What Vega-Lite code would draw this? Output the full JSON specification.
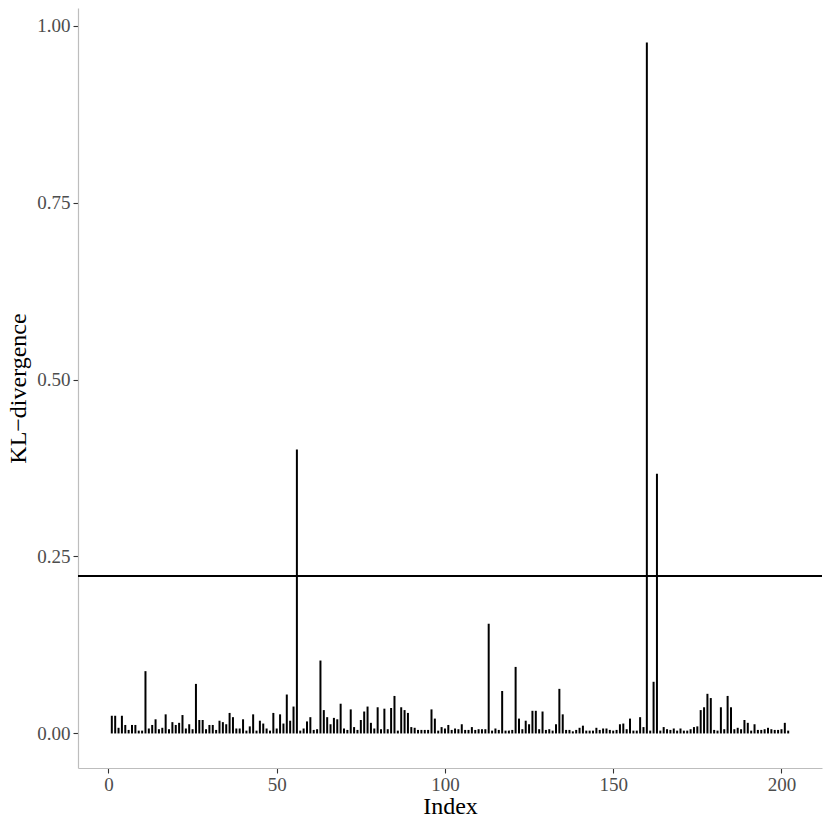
{
  "$schema": "https://vega.github.io/schema/vega-lite/v6.json",
  "width": 744,
  "height": 760,
  "autosize": {"type": "none"},
  "padding": {"left": 78, "top": 8, "right": 8, "bottom": 62},
  "background": "white",
  "config": {
    "view": {"stroke": null},
    "font": "Liberation Serif",
    "axis": {
      "grid": false,
      "domainColor": "#bdbdbd",
      "domainWidth": 1.2,
      "tickColor": "#333333",
      "tickWidth": 1.1,
      "tickSize": 5,
      "labelFont": "Liberation Serif",
      "labelFontSize": 19,
      "labelColor": "#4d4d4d",
      "titleFont": "Liberation Serif",
      "titleFontSize": 24,
      "titleFontWeight": "normal",
      "titleColor": "black"
    }
  },
  "data": {
    "values": [
      {"i":1,"v":0.025},{"i":2,"v":0.025},{"i":3,"v":0.008},{"i":4,"v":0.025},{"i":5,"v":0.012},
      {"i":6,"v":0.005},{"i":7,"v":0.012},{"i":8,"v":0.012},{"i":9,"v":0.004},{"i":10,"v":0.004},
      {"i":11,"v":0.088},{"i":12,"v":0.007},{"i":13,"v":0.012},{"i":14,"v":0.020},{"i":15,"v":0.006},
      {"i":16,"v":0.008},{"i":17,"v":0.027},{"i":18,"v":0.006},{"i":19,"v":0.016},{"i":20,"v":0.012},
      {"i":21,"v":0.015},{"i":22,"v":0.026},{"i":23,"v":0.007},{"i":24,"v":0.013},{"i":25,"v":0.006},
      {"i":26,"v":0.070},{"i":27,"v":0.019},{"i":28,"v":0.019},{"i":29,"v":0.006},{"i":30,"v":0.012},
      {"i":31,"v":0.012},{"i":32,"v":0.005},{"i":33,"v":0.018},{"i":34,"v":0.016},{"i":35,"v":0.013},
      {"i":36,"v":0.029},{"i":37,"v":0.023},{"i":38,"v":0.007},{"i":39,"v":0.007},{"i":40,"v":0.020},
      {"i":41,"v":0.004},{"i":42,"v":0.010},{"i":43,"v":0.027},{"i":44,"v":0.004},{"i":45,"v":0.018},
      {"i":46,"v":0.014},{"i":47,"v":0.007},{"i":48,"v":0.004},{"i":49,"v":0.029},{"i":50,"v":0.007},
      {"i":51,"v":0.027},{"i":52,"v":0.014},{"i":53,"v":0.055},{"i":54,"v":0.018},{"i":55,"v":0.038},
      {"i":56,"v":0.401},{"i":57,"v":0.004},{"i":58,"v":0.007},{"i":59,"v":0.017},{"i":60,"v":0.023},
      {"i":61,"v":0.005},{"i":62,"v":0.006},{"i":63,"v":0.103},{"i":64,"v":0.033},{"i":65,"v":0.023},
      {"i":66,"v":0.013},{"i":67,"v":0.022},{"i":68,"v":0.020},{"i":69,"v":0.042},{"i":70,"v":0.007},
      {"i":71,"v":0.005},{"i":72,"v":0.034},{"i":73,"v":0.009},{"i":74,"v":0.005},{"i":75,"v":0.019},
      {"i":76,"v":0.031},{"i":77,"v":0.038},{"i":78,"v":0.015},{"i":79,"v":0.007},{"i":80,"v":0.037},
      {"i":81,"v":0.006},{"i":82,"v":0.035},{"i":83,"v":0.006},{"i":84,"v":0.036},{"i":85,"v":0.053},
      {"i":86,"v":0.004},{"i":87,"v":0.037},{"i":88,"v":0.033},{"i":89,"v":0.029},{"i":90,"v":0.009},
      {"i":91,"v":0.008},{"i":92,"v":0.005},{"i":93,"v":0.005},{"i":94,"v":0.005},{"i":95,"v":0.005},
      {"i":96,"v":0.034},{"i":97,"v":0.021},{"i":98,"v":0.004},{"i":99,"v":0.009},{"i":100,"v":0.007},
      {"i":101,"v":0.012},{"i":102,"v":0.005},{"i":103,"v":0.007},{"i":104,"v":0.006},{"i":105,"v":0.013},
      {"i":106,"v":0.005},{"i":107,"v":0.005},{"i":108,"v":0.009},{"i":109,"v":0.005},{"i":110,"v":0.006},
      {"i":111,"v":0.006},{"i":112,"v":0.006},{"i":113,"v":0.155},{"i":114,"v":0.004},{"i":115,"v":0.007},
      {"i":116,"v":0.005},{"i":117,"v":0.060},{"i":118,"v":0.004},{"i":119,"v":0.004},{"i":120,"v":0.005},
      {"i":121,"v":0.094},{"i":122,"v":0.021},{"i":123,"v":0.006},{"i":124,"v":0.018},{"i":125,"v":0.013},
      {"i":126,"v":0.032},{"i":127,"v":0.032},{"i":128,"v":0.006},{"i":129,"v":0.031},{"i":130,"v":0.005},
      {"i":131,"v":0.006},{"i":132,"v":0.004},{"i":133,"v":0.013},{"i":134,"v":0.063},{"i":135,"v":0.027},
      {"i":136,"v":0.005},{"i":137,"v":0.005},{"i":138,"v":0.003},{"i":139,"v":0.005},{"i":140,"v":0.008},
      {"i":141,"v":0.011},{"i":142,"v":0.004},{"i":143,"v":0.004},{"i":144,"v":0.004},{"i":145,"v":0.008},
      {"i":146,"v":0.005},{"i":147,"v":0.007},{"i":148,"v":0.007},{"i":149,"v":0.005},{"i":150,"v":0.004},
      {"i":151,"v":0.005},{"i":152,"v":0.013},{"i":153,"v":0.014},{"i":154,"v":0.006},{"i":155,"v":0.021},
      {"i":156,"v":0.004},{"i":157,"v":0.004},{"i":158,"v":0.023},{"i":159,"v":0.009},{"i":160,"v":0.976},
      {"i":161,"v":0.004},{"i":162,"v":0.073},{"i":163,"v":0.367},{"i":164,"v":0.004},{"i":165,"v":0.009},
      {"i":166,"v":0.006},{"i":167,"v":0.005},{"i":168,"v":0.007},{"i":169,"v":0.004},{"i":170,"v":0.007},
      {"i":171,"v":0.004},{"i":172,"v":0.004},{"i":173,"v":0.006},{"i":174,"v":0.009},{"i":175,"v":0.010},
      {"i":176,"v":0.033},{"i":177,"v":0.037},{"i":178,"v":0.056},{"i":179,"v":0.050},{"i":180,"v":0.005},
      {"i":181,"v":0.004},{"i":182,"v":0.037},{"i":183,"v":0.006},{"i":184,"v":0.053},{"i":185,"v":0.037},
      {"i":186,"v":0.006},{"i":187,"v":0.008},{"i":188,"v":0.006},{"i":189,"v":0.019},{"i":190,"v":0.015},
      {"i":191,"v":0.004},{"i":192,"v":0.013},{"i":193,"v":0.005},{"i":194,"v":0.005},{"i":195,"v":0.006},
      {"i":196,"v":0.008},{"i":197,"v":0.006},{"i":198,"v":0.005},{"i":199,"v":0.005},{"i":200,"v":0.006},
      {"i":201,"v":0.015},{"i":202,"v":0.004}
    ]
  },
  "layer": [
    {
      "mark": {"type": "rule", "color": "black", "strokeWidth": 2},
      "encoding": {
        "x": {
          "field": "i", "type": "quantitative",
          "scale": {"domain": [-9.05, 212.05], "nice": false, "zero": false},
          "axis": {"values": [0, 50, 100, 150, 200], "title": "Index", "labelPadding": 2, "titlePadding": 0}
        },
        "y": {
          "field": "v", "type": "quantitative",
          "scale": {"domain": [-0.0488, 1.0248], "nice": false, "zero": false},
          "axis": {"values": [0, 0.25, 0.5, 0.75, 1], "format": ".2f", "title": "KL\u2212divergence", "labelPadding": 3, "titlePadding": 6}
        },
        "y2": {"datum": 0}
      }
    },
    {
      "mark": {"type": "rule", "color": "black", "strokeWidth": 1.3},
      "encoding": {"y": {"datum": 0.223}}
    }
  ]
}
